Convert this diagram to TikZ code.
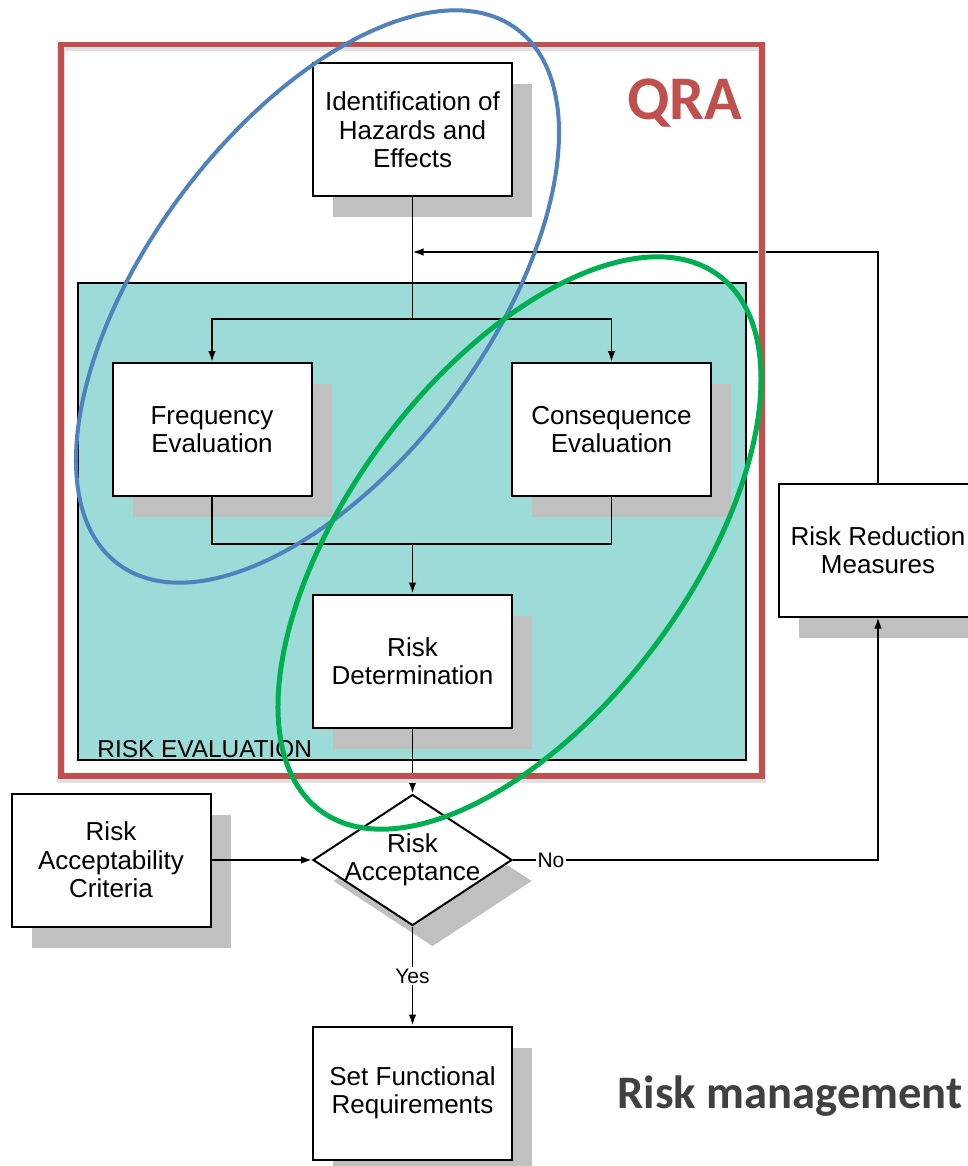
\documentclass[tikz,border=0pt]{standalone}
\usepackage{fontspec}
\setmainfont{Liberation Sans}
\newfontfamily\calibrifont{Carlito}
\usetikzlibrary{arrows.meta,positioning,shapes.geometric,shadows}
\definecolor{qrared}{RGB}{192,80,77}
\definecolor{evalteal}{RGB}{157,219,216}
\definecolor{ellblue}{RGB}{79,129,189}
\definecolor{ellgreen}{RGB}{0,176,80}
\definecolor{shadowgray}{RGB}{192,192,192}
\definecolor{notegray}{RGB}{64,64,64}

\begin{document}
\begin{tikzpicture}[x=0.5pt,y=-0.5pt,
  every node/.style={font=\fontsize{13}{14.25}\selectfont},
  boxshadow/.style={drop shadow={shadow xshift=10pt,shadow yshift=-10.5pt,fill=shadowgray,opacity=1}},
  box/.style={draw,line width=1pt,fill=white,boxshadow,minimum width=99.5pt,
              minimum height=66.5pt,align=center,inner sep=1pt},
  decision/.style={diamond,draw,line width=1pt,fill=white,boxshadow,
              minimum width=99.5pt,minimum height=65.5pt,inner sep=0pt},
  flow/.style={line width=0.9pt},
  arr/.style={flow,-{Latex[length=5.5pt,width=3.8pt]}},
  lbl/.style={fill=white,inner sep=1pt,font=\fontsize{10.5}{12}\selectfont},
  ring/.style={line width=2pt}
]
  \useasboundingbox (0,0) rectangle (968,1166);
  \clip (0,0) rectangle (968,1166);

  % risk evaluation block
  \draw[fill=evalteal,line width=0.9pt] (78,283) rectangle (746,760);
  \node[anchor=base west,inner sep=0,font=\fontsize{12.2}{13}\selectfont] (evallbl) at (97,757) {RISK EVALUATION};

  \node[box] (ident) at (412.5,130) {Identification of\\Hazards and\\Effects};
  \node[box] (freq) at (212,429.5) {Frequency\\Evaluation};
  \node[box] (cons) at (611.5,429.5) {Consequence\\Evaluation};
  \node[box] (det) at (412.5,661) {Risk\\Determination};
  \node[box] (crit) at (111,860) {Risk\\Acceptability\\Criteria};
  \node[decision] (acc) at (412.5,860) {};
  \node (acctxt) at (acc) [align=center] {Risk\\Acceptance};
  \node[box] (rrm) at (878,550) {Risk Reduction\\Measures};
  \node[box] (setfr) at (412.5,1093) {Set Functional\\Requirements};

  \coordinate (fork) at (412.5,319);
  \coordinate (join) at (412.5,544);
  \coordinate (back) at (412.5,252);

  \draw[flow] (ident.south) -- (fork);
  \draw[arr] (fork) -| (freq.north);
  \draw[arr] (fork) -| (cons.north);
  \draw[flow] (freq.south) |- (join) -| (cons.south);
  \draw[arr] (join) -- (det.north);
  \draw[arr] (det.south) -- (acc.north);
  \draw[arr] (crit.east) -- (acc.west);
  \draw[arr] (acc.east) -| node[lbl,pos=0.052] {No} (rrm.south);
  \draw[arr] (rrm.north) |- (back);
  \draw[arr] (acc.south) -- node[lbl] {Yes} (setfr.north);

  % QRA frame
  \draw[black!12,line width=4pt] (61,47.5) rectangle (762,779);
  \draw[qrared,line width=2.75pt] (61,44.5) rectangle (762,776);
  \node[anchor=base west,inner sep=0,text=qrared,
        font=\calibrifont\bfseries\fontsize{31}{31}\selectfont] (qra) at (627,120) {QRA};

  \node[anchor=base west,inner sep=0,text=notegray,
        font=\calibrifont\bfseries\fontsize{23.3}{24}\selectfont] (note) at (617,1108) {Risk management};

  % highlighted groups
  \draw[ring,ellblue,rotate around={53.3:(317.5,296.5)}] (317.5,296.5) ellipse [x radius=166.8pt,y radius=85pt];
  \draw[ring,ellgreen,line width=2.5pt,rotate around={53.3:(519.5,543)}] (519.5,543) ellipse [x radius=166.8pt,y radius=85pt];
\end{tikzpicture}
\end{document}
